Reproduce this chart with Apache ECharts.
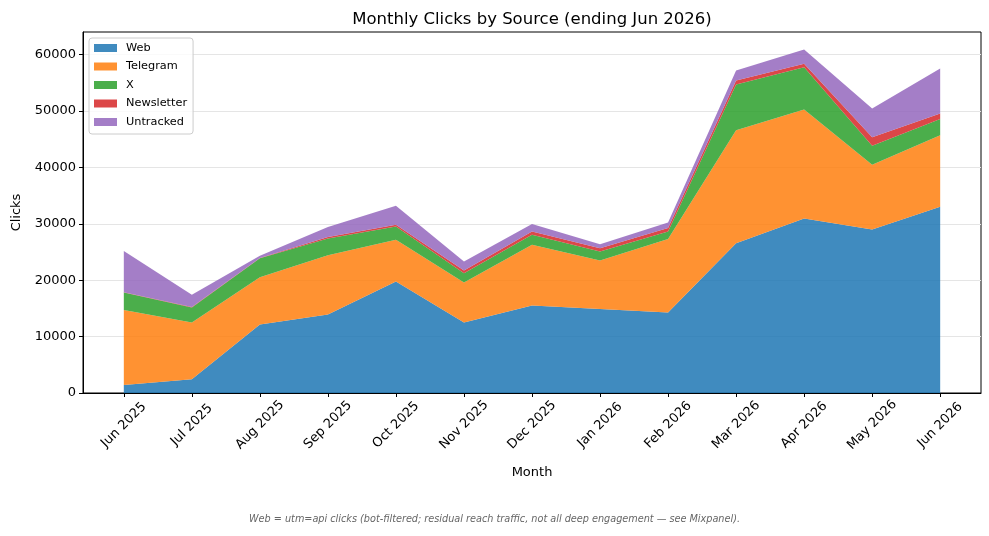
<!DOCTYPE html>
<html>
<head>
<meta charset="utf-8">
<title>Monthly Clicks by Source</title>
<script src="https://cdn.jsdelivr.net/npm/echarts@6/dist/echarts.min.js"></script>
<style>
  html, body { margin: 0; padding: 0; background: #fff; }
  #chart { width: 989px; height: 536px; }
</style>
</head>
<body>
<div id="chart"></div>
<script>
var months = ['Jun 2025', 'Jul 2025', 'Aug 2025', 'Sep 2025', 'Oct 2025', 'Nov 2025', 'Dec 2025',
  'Jan 2026', 'Feb 2026', 'Mar 2026', 'Apr 2026', 'May 2026', 'Jun 2026'];
var web = [1400, 2430, 12130, 13900, 19760, 12480, 15500, 14910, 14260, 26570, 30950, 29000, 33020];
var telegram = [13300, 10050, 8400, 10540, 7400, 7100, 10770, 8580, 13030, 20000, 19290, 11480, 12660];
var xClicks = [3100, 2700, 3360, 2960, 2370, 1670, 1780, 1590, 1350, 8110, 7510, 3370, 2900];
var newsletter = [80, 50, 50, 250, 300, 470, 590, 600, 590, 710, 600, 1480, 950];
var untracked = [7300, 2200, 400, 1780, 3380, 1590, 1310, 710, 1000, 1770, 2540, 5090, 7990];
var yTicks = [0, 10000, 20000, 30000, 40000, 50000, 60000];

var font = 'DejaVu Sans';
var monthIdx = months.map(function (m, i) { return i; });

// value first so the stack runs on the clicks dimension, month index second
function pairs (arr) {
  return arr.map(function (v, i) { return [v, i]; });
}

function area (name, color, data) {
  return {
    name: name,
    type: 'line',
    stack: 'total',
    color: color,
    showSymbol: false,
    silent: true,
    encode: { x: 1, y: 0 },
    lineStyle: { width: 0, opacity: 0 },
    areaStyle: { color: color, opacity: 0.85 },
    data: pairs(data)
  };
}

var chart = echarts.init(document.getElementById('chart'));
var option = {
  animation: false,
  textStyle: { fontFamily: font },
  title: {
    text: 'Monthly Clicks by Source (ending Jun 2026)',
    left: 527,
    top: 6,
    textAlign: 'center',
    textStyle: { fontFamily: font, fontSize: 16.5, fontWeight: 'normal', color: '#000' }
  },
  legend: {
    orient: 'vertical',
    left: 89,
    top: 38,
    padding: [4, 6, 6, 5],
    itemGap: 6.5,
    itemWidth: 23,
    itemHeight: 8,
    icon: 'rect',
    backgroundColor: 'rgba(255,255,255,0.8)',
    borderColor: '#cccccc',
    borderWidth: 1,
    borderRadius: 3,
    itemStyle: { opacity: 0.85 },
    textStyle: { fontFamily: font, fontSize: 11.3, color: '#000', lineHeight: 12, padding: [0, 0, 0, 4] },
    data: ['Web', 'Telegram', 'X', 'Newsletter', 'Untracked']
  },
  grid: {
    left: 83,
    right: 8,
    top: 32,
    bottom: 143,
    show: true,
    borderColor: '#000',
    borderWidth: 1,
    containLabel: false
  },
  xAxis: {
    type: 'value',
    min: -0.6,
    max: 12.6,
    name: 'Month',
    nameLocation: 'middle',
    nameGap: 80,
    nameTextStyle: { fontFamily: font, fontSize: 13, color: '#000', verticalAlign: 'middle' },
    axisLine: { show: true, onZero: false, lineStyle: { color: '#000', width: 1 } },
    axisTick: { show: true, length: 4, customValues: monthIdx, lineStyle: { color: '#000' } },
    axisLabel: {
      customValues: monthIdx,
      rotate: 45,
      align: 'center',
      verticalAlign: 'middle',
      margin: 32,
      fontFamily: font,
      fontSize: 13,
      color: '#000',
      formatter: function (v) { return months[Math.round(v)]; }
    },
    splitLine: { show: false }
  },
  yAxis: {
    type: 'value',
    min: 0,
    max: 64000,
    name: 'Clicks',
    nameLocation: 'middle',
    nameGap: 60,
    nameTextStyle: { fontFamily: font, fontSize: 13, color: '#000' },
    axisLine: { show: true, onZero: false, lineStyle: { color: '#000', width: 1 } },
    axisTick: { show: true, length: 4, customValues: yTicks, lineStyle: { color: '#000' } },
    axisLabel: {
      customValues: yTicks,
      margin: 7,
      fontFamily: font,
      fontSize: 13,
      color: '#000',
      formatter: function (v) { return String(v); }
    },
    splitLine: { show: true, lineStyle: { color: '#e5e5e5', width: 1 } }
  },
  graphic: [{
    type: 'text',
    left: 'center',
    top: 514,
    style: {
      text: 'Web = utm=api clicks (bot-filtered; residual reach traffic, not all deep engagement \u2014 see Mixpanel).',
      fontFamily: font,
      fontStyle: 'italic',
      fontSize: 9.7,
      fill: '#666666'
    }
  }],
  series: [
    area('Web', '#1f77b4', web),
    area('Telegram', '#ff7f0e', telegram),
    area('X', '#2ca02c', xClicks),
    area('Newsletter', '#d62728', newsletter),
    area('Untracked', '#9467bd', untracked)
  ]
};
chart.setOption(option);
</script>
</body>
</html>
